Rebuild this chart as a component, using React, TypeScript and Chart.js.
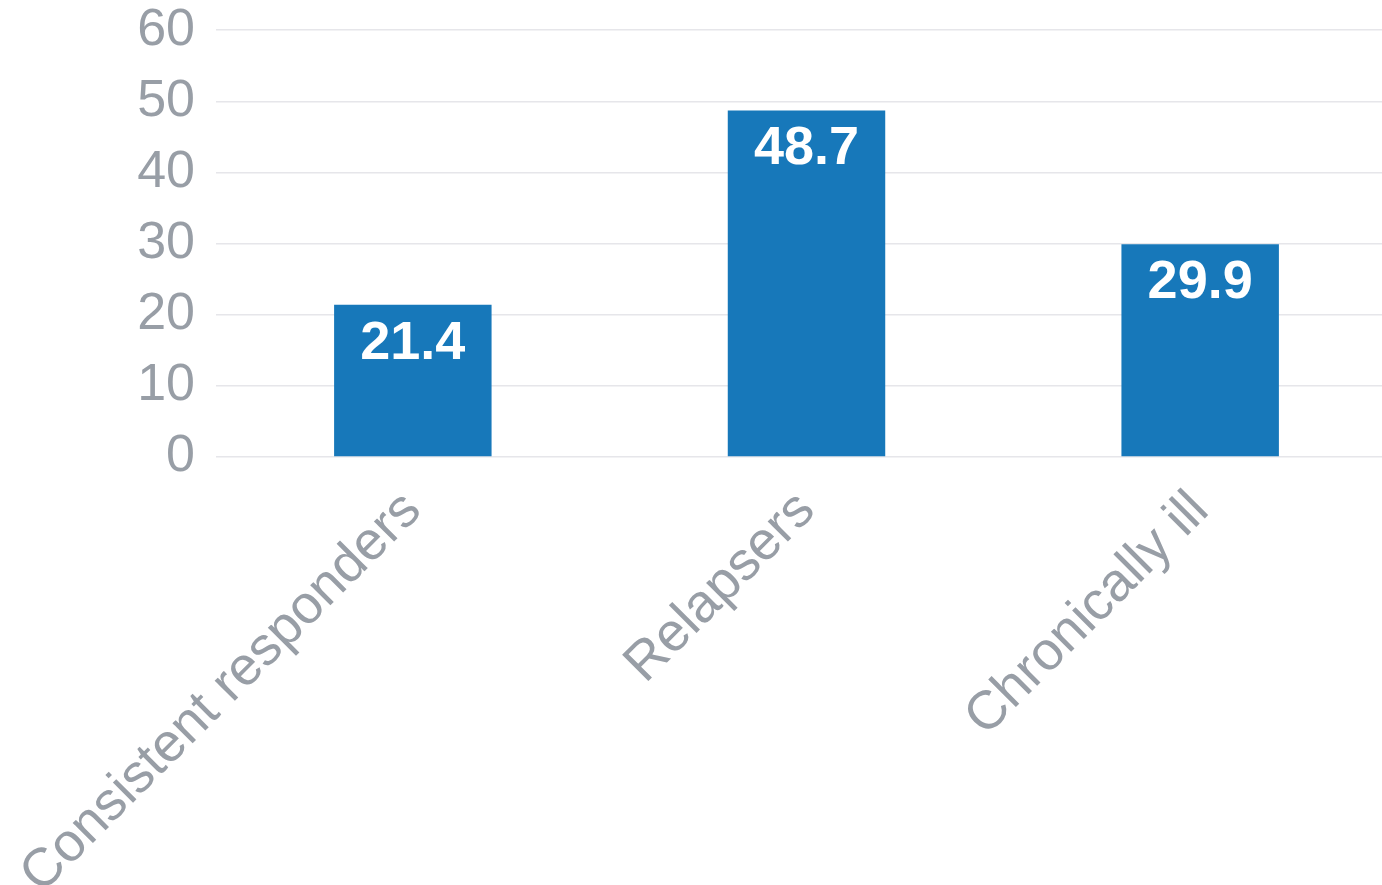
import React, { useEffect, useRef } from "react";
import { Chart, registerables } from "chart.js";

Chart.register(...registerables);

const categories = ["Consistent responders", "Relapsers", "Chronically ill"];
const values = [21.4, 48.7, 29.9];
const yTicks = [0, 10, 20, 30, 40, 50, 60];

const FONT = "'Liberation Sans', Arial, sans-serif";

const dataLabelPlugin = {
  id: "dataLabels",
  afterDatasetsDraw(chart: any) {
    const ctx = chart.ctx;
    const meta = chart.getDatasetMeta(0);
    ctx.save();
    ctx.fillStyle = "#ffffff";
    ctx.font = `bold 54px ${FONT}`;
    ctx.textAlign = "center";
    ctx.textBaseline = "middle";
    meta.data.forEach((bar: any, i: number) => {
      ctx.fillText(String(values[i]), bar.x, bar.y + 39);
    });
    ctx.restore();
  },
};

export default function App() {
  const ref = useRef<HTMLCanvasElement>(null);
  useEffect(() => {
    if (!ref.current) return;
    const chart = new Chart(ref.current, {
      type: "bar",
      data: {
        labels: categories,
        datasets: [
          {
            data: values,
            backgroundColor: "#1778BA",
            barPercentage: 0.4,
            categoryPercentage: 1,
          },
        ],
      },
      options: {
        animation: false,
        responsive: false,
        maintainAspectRatio: false,
        layout: { padding: { top: 0, left: 0, right: 0, bottom: 0 } },
        plugins: { legend: { display: false }, tooltip: { enabled: false } },
        scales: {
          x: {
            grid: { display: false, drawTicks: false },
            border: { display: false },
            ticks: {
              color: "#989ea6",
              font: { family: FONT, size: 54 },
              maxRotation: 45,
              minRotation: 45,
              padding: 22,
            },
            afterFit(scale: any) {
              scale.height = 429;
              scale.paddingLeft = 0;
              scale.paddingRight = 0;
            },
          },
          y: {
            min: 0,
            max: 60,
            afterBuildTicks(scale: any) {
              scale.ticks = yTicks.map((v) => ({ value: v }));
            },
            grid: { color: "#e6e6ea", lineWidth: 1.5, drawTicks: false },
            border: { display: false },
            ticks: {
              color: "#989ea6",
              font: { family: FONT, size: 52 },
              padding: 21,
            },
            afterFit(scale: any) {
              scale.width = 216;
            },
          },
        },
      },
      plugins: [dataLabelPlugin],
    });
    return () => chart.destroy();
  }, []);
  return (
    <div
      style={{
        position: "fixed",
        left: 0,
        top: 0,
        width: 1382,
        height: 885,
        overflow: "hidden",
        background: "#fff",
      }}
    >
      <canvas
        ref={ref}
        width={1397}
        height={908}
        style={{ display: "block", marginTop: -22 }}
      />
    </div>
  );
}
